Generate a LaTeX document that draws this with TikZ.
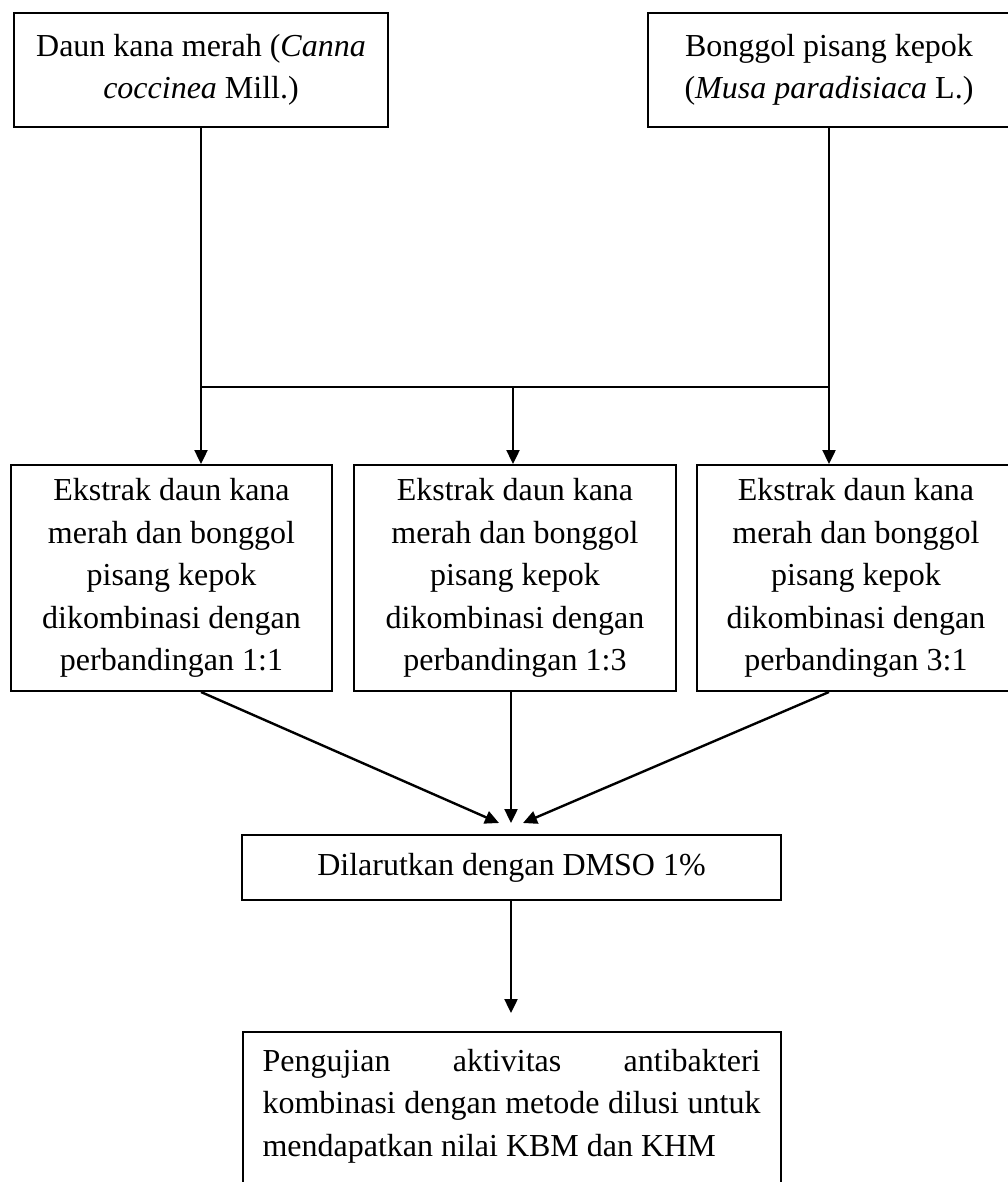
\documentclass[tikz,border=0pt]{standalone}
\usepackage{fontspec}
\setmainfont{Liberation Serif}
\usetikzlibrary{arrows.meta}

\begin{document}
\begin{tikzpicture}[x=0.5pt,y=-0.5pt,line width=1.2pt,
  >={Triangle[length=7pt,width=6.5pt]},
  box/.style={draw,line width=1pt,align=center,inner sep=0pt,
    font=\fontsize{16}{21.25}\selectfont}]
\useasboundingbox (0,0) rectangle (1007,1182);

\node[box,minimum width=187pt,minimum height=57pt] (kana) at (201,70)
  {Daun kana merah (\textit{Canna}\\ \textit{coccinea} Mill.)};
\node[box,minimum width=181pt,minimum height=57pt] (pisang) at (829,70)
  {Bonggol pisang kepok\\ (\textit{Musa paradisiaca} L.)};

\node[box,minimum width=160.5pt,minimum height=113pt] (rasio11) at (171.5,578)
  {Ekstrak daun kana\\ merah dan bonggol\\ pisang kepok\\ dikombinasi dengan\\ perbandingan 1:1};
\node[box,minimum width=161pt,minimum height=113pt] (rasio13) at (515,578)
  {Ekstrak daun kana\\ merah dan bonggol\\ pisang kepok\\ dikombinasi dengan\\ perbandingan 1:3};
\node[box,minimum width=159pt,minimum height=113pt] (rasio31) at (856,578)
  {Ekstrak daun kana\\ merah dan bonggol\\ pisang kepok\\ dikombinasi dengan\\ perbandingan 3:1};

\node[box,minimum width=269.5pt,minimum height=32.5pt] (dmso) at (511.5,867.5)
  {Dilarutkan dengan DMSO 1\%};

\node[box,align=justify,anchor=north,text width=249pt,inner xsep=10pt,
  inner ysep=8.5pt,text height=11pt,text depth=54pt] (uji) at (511.5,1031)
  {\hyphenpenalty=10000 Pengujian aktivitas antibakteri\linebreak
   kombinasi dengan metode dilusi untuk\linebreak
   mendapatkan nilai KBM dan KHM};

% titik percabangan
\coordinate (jl) at (201,387);
\coordinate (jm) at (513,387);
\coordinate (jr) at (829,387);
\coordinate (tl) at (499,823);
\coordinate (tm) at (511,823);
\coordinate (tr) at (523,823);
\coordinate (tuji) at (511,1013);

\draw (kana.south) -- (jl) -- (jr) -- (pisang.south);
\draw[->] (jl) -- (jl |- rasio11.north);
\draw[->] (jm) -- (jm |- rasio13.north);
\draw[->] (jr) -- (jr |- rasio31.north);

\draw[->] (jl |- rasio11.south) -- (tl);
\draw[->] (tm |- rasio13.south) -- (tm);
\draw[->] (jr |- rasio31.south) -- (tr);

\draw[->] (tuji |- dmso.south) -- (tuji);
\end{tikzpicture}
\end{document}
